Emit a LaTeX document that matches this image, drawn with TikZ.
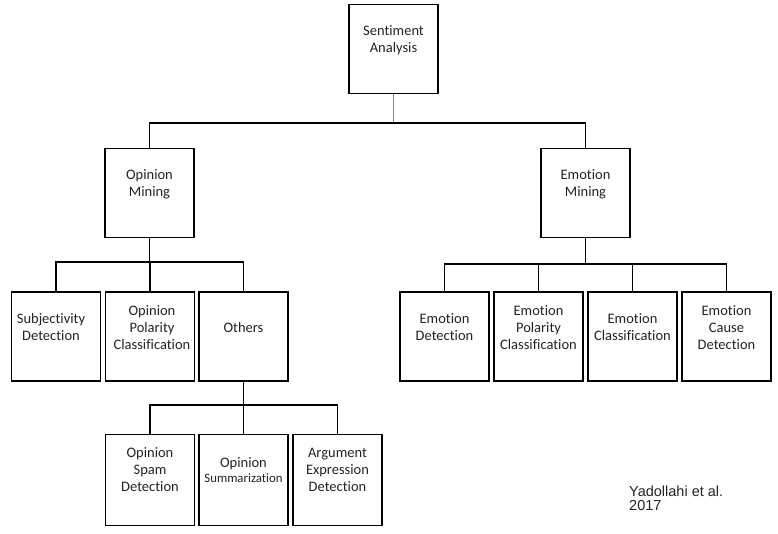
\documentclass[tikz,border=0pt]{standalone}
\usepackage{fontspec}
\setmainfont{Carlito}[Ligatures=NoCommon]
\newfontfamily\credfont{Liberation Sans}
\definecolor{txtgray}{RGB}{35,35,35}
\definecolor{linkblue}{RGB}{115,135,155}
\tikzset{
  box/.style={draw=black, line width=1.3pt, minimum width=89pt, minimum height=89pt, inner sep=0pt},
  lab/.style={anchor=center, yshift=-36pt, align=center, inner sep=0pt, text=txtgray,
              font=\fontsize{14.5}{17}\selectfont},
  conn/.style={draw=black, line width=1.3pt}
}
\begin{document}
\begin{tikzpicture}[x=1pt,y=-1pt]
\useasboundingbox (0,0) rectangle (778,533);
% level 1
\node[box, label={[lab]north:{Sentiment\\Analysis}}] (sa) at (393.5,49) {};
% level 2
\node[box, label={[lab]north:{Opinion\\Mining}}] (om) at (149.5,193) {};
\node[box, label={[lab]north:{Emotion\\Mining}}] (em) at (585.5,193) {};
% level 3 left
\node[box, label={[lab,xshift=-5pt]north:{Subjectivity\\Detection}}] (sd) at (56,336.5) {};
\node[box, label={[lab,xshift=2pt]north:{Opinion\\Polarity\\Classification}}] (opc) at (150,336.5) {};
\node[box, label={[lab]north:{Others}}] (ot) at (243.5,336.5) {};
% level 3 right
\node[box, label={[lab]north:{Emotion\\Detection}}] (ed) at (444.5,336.5) {};
\node[box, label={[lab]north:{Emotion\\Polarity\\Classification}}] (epc) at (538.5,336.5) {};
\node[box, label={[lab]north:{Emotion\\Classification}}] (ec) at (632.5,336.5) {};
\node[box, label={[lab]north:{Emotion\\Cause\\Detection}}] (ecd) at (726.5,336.5) {};
% level 4
\node[box, minimum height=91pt, label={[lab]north:{Opinion\\Spam\\Detection}}] (osd) at (150,480) {};
\node[box, minimum height=91pt, label={[lab,font=\fontsize{14.5}{15.5}\selectfont]north:{Opinion\\{\fontsize{12.8}{15.5}\selectfont Summarization}}}] (os) at (243.5,480) {};
\node[box, minimum height=91pt, label={[lab]north:{Argument\\Expression\\Detection}}] (aed) at (337.5,480) {};
% credit
\node[anchor=base west, align=left, inner sep=0pt, text=txtgray,
      font=\credfont\fontsize{14.5}{13.5}\selectfont] (cred) at (629,510) {Yadollahi et al.\\2017};
% connectors
\coordinate (j1) at (393.5,123);
\coordinate (j2) at (149.5,262);
\coordinate (j3) at (585.5,264);
\coordinate (j4) at (243.5,405);
\draw[line width=1.3pt, draw=linkblue] (sa.south) -- (j1);
\draw[conn] (om.north) |- (j1) -| (em.north);
\draw[conn] (om.south) -- (j2);
\draw[conn] (sd.north) |- (j2) -| (ot.north);
\draw[conn] (opc.north) -- (opc.north |- j2);
\draw[conn] (em.south) -- (j3);
\draw[conn] (ed.north) |- (j3) -| (ecd.north);
\draw[conn] (epc.north) -- (epc.north |- j3);
\draw[conn] (ec.north) -- (ec.north |- j3);
\draw[conn] (ot.south) -- (j4);
\draw[conn] (osd.north) |- (j4) -| (aed.north);
\draw[conn] (os.north) -- (os.north |- j4);
\end{tikzpicture}
\end{document}
